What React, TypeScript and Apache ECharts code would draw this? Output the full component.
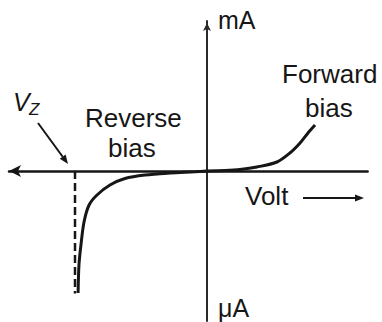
import React, { useEffect, useRef } from "react";
import * as echarts from "echarts";

// Zener diode I–V characteristic (arbitrary units: volts on x, current on y)
const reverseCurve: [number, number][] = [
  [-5.86, -4.88],
  [-5.82, -3.76],
  [-5.73, -2.96],
  [-5.59, -2.04],
  [-5.36, -1.36],
  [-5.0, -0.96],
  [-4.41, -0.56],
  [-3.73, -0.3],
  [-2.82, -0.16],
  [-1.68, -0.08],
  [-0.55, -0.03],
  [0, 0],
];

const forwardCurve: [number, number][] = [
  [0, 0],
  [0.82, 0.02],
  [1.5, 0.06],
  [2.27, 0.16],
  [3.18, 0.36],
  [3.77, 0.72],
  [4.23, 1.12],
  [4.59, 1.52],
  [4.91, 1.84],
];

const zenerVoltage = -6;
const zenerDropEnd = -4.9;

const xRange = [-9, 7.3];
const yRange = [-6, 6];

const ink = "#161616";
const font = "'Liberation Sans', Arial, sans-serif";

function label(text: string, x: number, y: number, size = 26, extra: any = {}) {
  return {
    type: "text",
    x,
    y,
    style: {
      text,
      fill: ink,
      font: `${extra.italic ? "italic " : ""}${size}px ${font}`,
      align: "left",
      verticalAlign: "middle",
    },
  };
}

function arrow(x1: number, y1: number, x2: number, y2: number, width: number, head: number) {
  const ang = Math.atan2(y2 - y1, x2 - x1);
  const bx = x2 - head * Math.cos(ang);
  const by = y2 - head * Math.sin(ang);
  const px = (head * 0.4) * Math.sin(ang);
  const py = -(head * 0.4) * Math.cos(ang);
  return [
    {
      type: "line",
      shape: { x1, y1, x2: bx, y2: by },
      style: { stroke: ink, lineWidth: width },
    },
    {
      type: "polygon",
      shape: { points: [[x2, y2], [bx + px, by + py], [bx - px, by - py]] },
      style: { fill: ink },
    },
  ];
}

export default function App() {
  const ref = useRef<HTMLDivElement>(null);

  useEffect(() => {
    if (!ref.current) return;
    const chart = echarts.init(ref.current, null, { renderer: "svg" });
    chart.setOption({
      animation: false,
      backgroundColor: "#ffffff",
      grid: { left: 9, right: 14.4, top: 21, bottom: 1, containLabel: false },
      xAxis: {
        type: "value",
        min: xRange[0],
        max: xRange[1],
        axisLine: {
          onZero: true,
          symbol: ["arrow", "none"],
          symbolSize: [9, 12],
          lineStyle: { color: ink, width: 2.5 },
        },
        axisTick: { show: false },
        axisLabel: { show: false },
        splitLine: { show: false },
      },
      yAxis: {
        type: "value",
        min: yRange[0],
        max: yRange[1],
        axisLine: {
          onZero: true,
          symbol: ["none", "arrow"],
          symbolSize: [6, 8],
          symbolOffset: [0, -2],
          lineStyle: { color: "#2a2a2a", width: 2 },
        },
        axisTick: { show: false },
        axisLabel: { show: false },
        splitLine: { show: false },
      },
      series: [
        {
          type: "line",
          data: [
            [zenerVoltage, 0],
            [zenerVoltage, zenerDropEnd],
          ],
          symbol: "none",
          lineStyle: { color: ink, width: 2.5, type: [8, 4] },
        },
        {
          type: "line",
          data: reverseCurve,
          smooth: 0.3,
          symbol: "none",
          lineStyle: { color: ink, width: 3 },
        },
        {
          type: "line",
          data: forwardCurve,
          smooth: 0.3,
          symbol: "none",
          lineStyle: { color: ink, width: 3 },
        },
      ],
      graphic: [
        label("mA", 218, 20, 25),
        label("μA", 218, 308, 25),
        label("Forward", 282, 74),
        label("bias", 305, 108),
        label("Reverse", 85, 118),
        label("bias", 108, 148),
        label("Volt", 245, 196),
        label("V", 13, 102, 25, { italic: true }),
        label("Z", 29, 109, 17, { italic: true }),
        ...arrow(38, 123, 68, 164, 2, 9),
        ...arrow(303, 198, 364, 198, 2, 9),
      ],
    });
    return () => chart.dispose();
  }, []);

  return (
    <div
      ref={ref}
      style={{ position: "fixed", left: 0, top: 0, width: 382, height: 322 }}
    />
  );
}
